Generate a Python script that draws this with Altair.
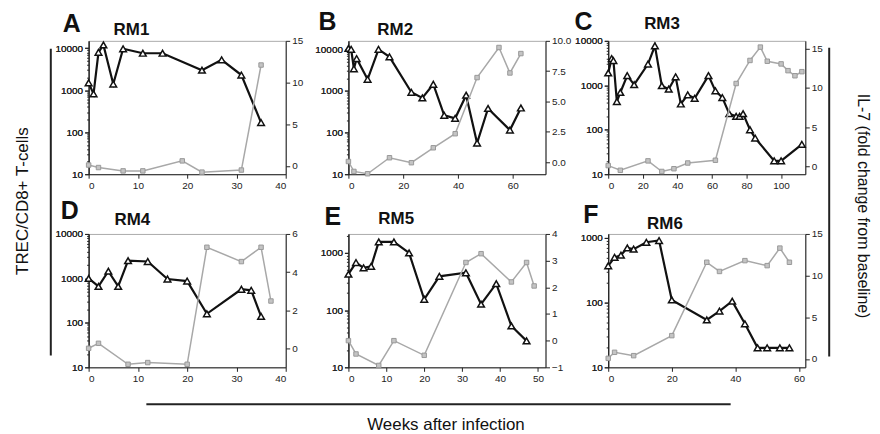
import altair as alt
import pandas as pd

# ---------------- data ----------------
A_trec_wk = [0, 1, 2, 3, 5, 7, 11, 15, 23, 27, 31, 35]
A_trec = [1500, 820, 8000, 12000, 1400, 9700, 7600, 7600, 3000, 5300, 2300, 170]
A_il7_wk = [0, 2, 7, 11, 19, 23, 31, 35]
A_il7 = [0.1, -0.2, -0.6, -0.6, 0.6, -0.75, -0.5, 12.1]

B_trec_wk = [0, 1, 2, 3, 7, 11, 15, 23, 27, 31, 35, 39, 43, 47, 51, 59, 63]
B_trec = [10500, 10000, 3400, 6000, 1900, 10000, 6600, 930, 680, 1450, 260, 220, 790, 56, 380, 115, 390]
B_il7_wk = [0, 2, 7, 15, 23, 31, 39, 47, 55, 59, 63]
B_il7 = [0.05, -0.77, -0.96, 0.36, -0.05, 1.18, 2.34, 6.97, 9.45, 7.35, 8.95]

C_trec_wk = [0, 2, 3, 5, 7, 11, 15, 23, 27, 31, 35, 39, 42, 46, 50, 58, 62, 66, 70, 74, 76, 78, 82, 85, 96, 100, 112]
C_trec = [1900, 4000, 3600, 430, 690, 1650, 1030, 3000, 7700, 980, 820, 1550, 380, 610, 510, 1650, 750, 530, 230, 200, 200, 230, 100, 65, 20, 20, 47]
C_il7_wk = [0, 7, 23, 31, 38, 46, 62, 74, 82, 88, 92, 100, 104, 108, 112]
C_il7 = [0.1, -0.5, 0.7, -0.65, -0.3, 0.43, 0.78, 10.56, 13.5, 15.2, 13.4, 13.06, 12.2, 11.55, 12.07]

D_trec_wk = [0, 2, 4, 6, 8, 12, 16, 20, 24, 31, 33, 35]
D_trec = [1000, 660, 1450, 660, 2500, 2400, 970, 870, 160, 570, 540, 140]
D_il7_wk = [0, 2, 8, 12, 20, 24, 31, 35, 37]
D_il7 = [0, 0.26, -0.84, -0.75, -0.84, 5.3, 4.55, 5.3, 2.48]

E_trec_wk = [0, 2, 4, 6, 8, 12, 16, 20, 24, 31, 35, 39, 43, 47]
E_trec = [425, 680, 550, 585, 1560, 1560, 1000, 155, 390, 450, 127, 290, 53, 29]
E_il7_wk = [0, 2, 8, 12, 20, 31, 35, 43, 47, 49]
E_il7 = [0.0, -0.5, -0.93, 0.0, -0.55, 2.93, 3.26, 2.2, 2.93, 2.05]

F_trec_wk = [0, 2, 4, 6, 8, 12, 16, 20, 31, 35, 39, 43, 47, 50, 54, 57]
F_trec = [370, 500, 540, 700, 670, 855, 910, 110, 54, 74, 105, 47, 20, 20, 20, 20]
F_il7_wk = [0, 2, 8, 20, 31, 35, 43, 50, 54, 57]
F_il7 = [0.08, 0.8, 0.4, 2.8, 11.6, 10.5, 11.8, 11.2, 13.3, 11.6]

letters = ["A", "B", "C", "D", "E", "F"]
names = ["RM1", "RM2", "RM3", "RM4", "RM5", "RM6"]

x_domains = [[0, 40], [0, 72], [0, 114], [0, 40], [0, 52], [0, 62]]
x_ticks = [[0, 10, 20, 30, 40], [0, 20, 40, 60], [0, 20, 40, 60, 80, 100],
           [0, 10, 20, 30, 40], [0, 10, 20, 30, 40, 50], [0, 20, 40, 60]]
left_domains = [[10, 15000], [10, 16000], [10, 10000], [10, 10000], [10, 2150], [10, 1150]]
left_ticks = [[10, 100, 1000, 10000]] * 4 + [[10, 100, 1000]] * 2
right_domains = [[-1, 15], [-1, 10], [-1, 16], [-1, 6], [-1, 4], [-1, 15]]
right_ticks = [[0, 5, 10, 15], [0, 2.5, 5, 7.5, 10], [0, 5, 10, 15],
               [0, 2, 4, 6], [-1, 0, 1, 2, 3, 4], [0, 5, 10, 15]]
right_formats = ["d", ".1f", "d", "d", "d", "d"]

left_label = "TREC/CD8+ T-cells"
right_label = "IL-7 (fold change from baseline)"
bottom_label = "Weeks after infection"

# ---------------- layout / style (not data) ----------------
FONT = "Liberation Sans"
W, H = 198, 134
letter_pos = [(-26, -9), (-30, -11), (-34, -11), (-28, -15), (-24, -9), (-25, -11)]
title_pos = [(43, -6), (47, -6), (54, -12), (44, -9), (48, -10), (57, -5)]

one = pd.DataFrame({"k": [0]})


def minor_log_ticks(dom):
    out = []
    for p in [10, 100, 1000, 10000]:
        for m in range(2, 10):
            v = m * p
            if dom[0] < v < dom[1]:
                out.append(v)
    return out


def txt(text, x, y, size, weight="normal", align="left", angle=0, baseline="alphabetic"):
    return alt.Chart(one).mark_text(
        text=text, font=FONT, fontSize=size, fontWeight=weight, align=align,
        baseline=baseline, angle=angle, color="#111"
    ).encode(x=alt.value(x), y=alt.value(y))


def vrule(x, y1, y2):
    return alt.Chart(one).mark_rule(color="#222", strokeWidth=2).encode(
        x=alt.value(x), y=alt.value(y1), y2=alt.value(y2))


def hrule(y, x1, x2):
    return alt.Chart(one).mark_rule(color="#222", strokeWidth=2).encode(
        y=alt.value(y), x=alt.value(x1), x2=alt.value(x2))


trec_wks = [A_trec_wk, B_trec_wk, C_trec_wk, D_trec_wk, E_trec_wk, F_trec_wk]
trecs = [A_trec, B_trec, C_trec, D_trec, E_trec, F_trec]
il7_wks = [A_il7_wk, B_il7_wk, C_il7_wk, D_il7_wk, E_il7_wk, F_il7_wk]
il7s = [A_il7, B_il7, C_il7, D_il7, E_il7, F_il7]

panels = []
for i in range(6):
    tdf = pd.DataFrame({"week": trec_wks[i], "trec": trecs[i]})
    idf = pd.DataFrame({"week": il7_wks[i], "il7": il7s[i]})
    x = alt.X("week:Q", scale=alt.Scale(domain=x_domains[i], nice=False, zero=False),
              axis=alt.Axis(values=x_ticks[i], format="d", title=None))
    lscale = alt.Scale(type="log", domain=left_domains[i], nice=False)
    yl = alt.Y("trec:Q", scale=lscale,
               axis=alt.Axis(values=left_ticks[i], format="d", title=None, orient="left"))
    yl_minor = alt.Y("trec:Q", scale=lscale,
                     axis=alt.Axis(values=minor_log_ticks(left_domains[i]), labels=False,
                                   domain=False, tickSize=2, title=None, orient="left"))
    yr = alt.Y("il7:Q", scale=alt.Scale(domain=right_domains[i], nice=False, zero=False),
               axis=alt.Axis(values=right_ticks[i], format=right_formats[i], title=None, orient="right"))
    bt = alt.Chart(tdf).encode(x=x, y=yl)
    trec = alt.layer(
        bt.mark_line(color="#111", strokeWidth=2.2),
        bt.mark_point(shape="triangle-up", filled=True, fill="white", stroke="#111",
                      strokeWidth=1.5, size=45, opacity=1),
        alt.Chart(tdf).mark_point(opacity=0, size=1).encode(x=x, y=yl_minor),
    ).resolve_axis(y="independent")
    bi = alt.Chart(idf).encode(x=x, y=yr)
    il7 = alt.layer(
        bi.mark_line(color="#a8a8a8", strokeWidth=1.5),
        bi.mark_point(shape="square", filled=True, fill="#c4c4c4", stroke="#999",
                      strokeWidth=1, size=20, opacity=1),
    )
    layers = [trec, il7]
    layers.append(txt(letters[i], letter_pos[i][0], letter_pos[i][1], 25, "bold"))
    layers.append(txt(names[i], title_pos[i][0], title_pos[i][1], 17, "bold", align="center"))
    if i == 0:
        layers.append(alt.Chart(one).mark_point(size=1, filled=True, opacity=0, strokeWidth=0)
                      .encode(x=alt.value(-79.5), y=alt.value(-30.5)))
        layers.append(txt(left_label, -66, 161, 17, align="center", angle=270, baseline="middle"))
        layers.append(vrule(-38, 8, 316))
    if i == 2:
        layers.append(txt(right_label, 256, 166, 16, align="center", angle=90, baseline="middle"))
        layers.append(vrule(222, 7, 317))
    if i == 4:
        layers.append(hrule(171, -203, 384))
        layers.append(txt(bottom_label, 98, 197, 17, align="center"))
    panel = alt.layer(*layers).resolve_scale(y="independent").properties(width=W, height=H)
    panels.append(panel)

chart = (
    alt.concat(*panels, columns=3, spacing={"row": 60, "column": 63}, bounds="flush")
    .properties(padding=0, background="white")
    .configure_axis(labelFont=FONT, labelFontSize=10, labelColor="#222", domainColor="#222",
                    tickColor="#222", tickSize=4, grid=False, labelPadding=2, domainWidth=1)
    .configure_view(stroke="#aaa", strokeWidth=1)
)

chart.save("out.html", embed_options={"renderer": "svg", "actions": False})
